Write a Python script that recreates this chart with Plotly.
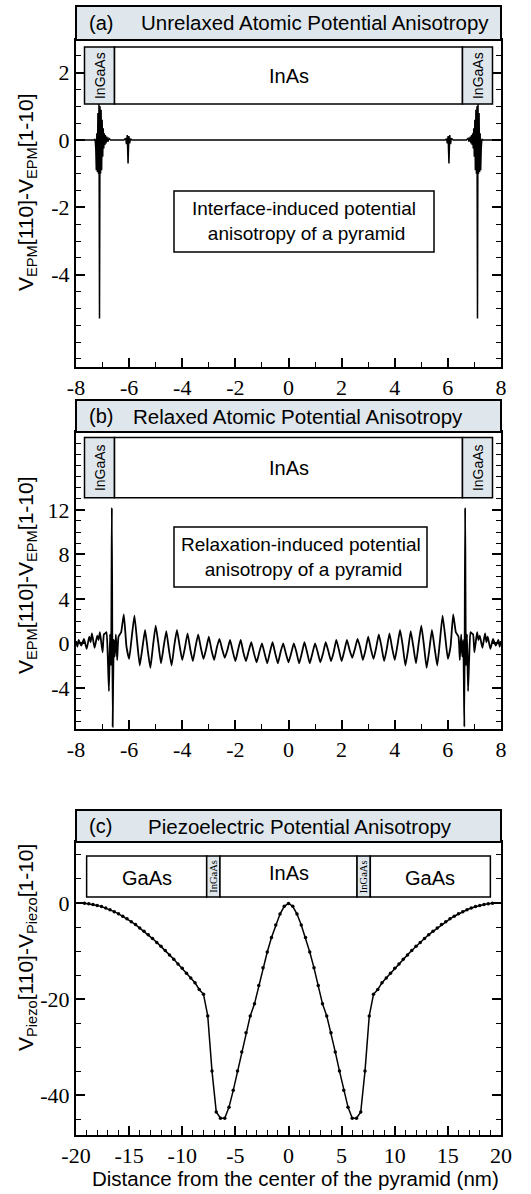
import plotly.graph_objects as go

# ---------------- data ----------------
# (a) unrelaxed atomic potential anisotropy along the pyramid axis (nm, meV)
x_a = [-8.0, -7.32, -7.28, -7.255, -7.235, -7.215, -7.195, -7.175, -7.155, -7.135, -7.115, -7.095,
       -7.075, -7.055, -7.035, -7.015, -6.995, -6.975, -6.955, -6.935, -6.915, -6.895, -6.87, -6.84,
       -6.80, -6.76, -6.70, -6.20, -6.13, -6.10, -6.07, -6.04, -6.01, -5.98, -5.95, -5.90,
       -5.80,
       5.80, 5.90, 5.95, 5.98, 6.01, 6.04, 6.07, 6.10, 6.13, 6.20, 6.70, 6.76, 6.80, 6.84,
       6.87, 6.895, 6.915, 6.935, 6.955, 6.975, 6.995, 7.015, 7.035, 7.055, 7.075, 7.095,
       7.115, 7.135, 7.155, 7.175, 7.195, 7.215, 7.235, 7.255, 7.28, 7.32, 8.0]
y_a = [0.0, 0.0, 0.03, -0.25, -0.9, 0.2, -0.95, 0.8, -1.0, 1.1, -5.3, 1.0,
       -1.0, 0.9, -0.9, 0.6, -0.5, 0.35, -0.25, 0.2, -0.15, 0.15, -0.1, 0.1,
       -0.05, 0.05, 0.0, 0.0, 0.05, -0.12, 0.15, -0.7, 0.12, -0.1, 0.04, 0.0,
       0.0,
       0.0, 0.0, 0.04, -0.1, 0.12, -0.7, 0.15, -0.12, 0.05, 0.0, 0.0, 0.05, -0.05, 0.1,
       -0.1, 0.15, -0.15, 0.2, -0.25, 0.35, -0.5, 0.6, -0.9, 0.9, -1.0, 1.0, -5.3,
       1.1, -1.0, 0.8, -0.95, 0.2, -0.9, -0.25, 0.03, 0.0, 0.0]

# (b) relaxed atomic potential anisotropy
x_b = [-8.00, -7.95, -7.90, -7.80, -7.70, -7.60, -7.50, -7.45, -7.40, -7.30, -7.20, -7.15,
       -7.10, -7.00, -6.95, -6.90, -6.85, -6.80, -6.76, -6.72, -6.68, -6.65, -6.62, -6.58,
       -6.54, -6.50, -6.45, -6.40,
       -6.30, -6.20, -6.10, -6.00, -5.90, -5.80, -5.70, -5.60, -5.50, -5.40, -5.30, -5.20,
       -5.10, -5.00, -4.90, -4.80, -4.70, -4.60, -4.50, -4.40, -4.30, -4.20, -4.10, -4.00,
       -3.90, -3.80, -3.70, -3.60, -3.50, -3.40, -3.30, -3.20, -3.10, -3.00, -2.90, -2.80,
       -2.70, -2.60, -2.50, -2.40, -2.30, -2.20, -2.10, -2.00, -1.90, -1.80, -1.70, -1.60,
       -1.50, -1.40, -1.30, -1.20, -1.10, -1.00, -0.90, -0.80, -0.70, -0.60, -0.50, -0.40,
       -0.30, -0.20, -0.10, 0.00,
       0.10, 0.20, 0.30, 0.40, 0.50, 0.60, 0.70, 0.80, 0.90, 1.00, 1.10, 1.20,
       1.30, 1.40, 1.50, 1.60, 1.70, 1.80, 1.90, 2.00, 2.10, 2.20, 2.30, 2.40,
       2.50, 2.60, 2.70, 2.80, 2.90, 3.00, 3.10, 3.20, 3.30, 3.40, 3.50, 3.60,
       3.70, 3.80, 3.90, 4.00, 4.10, 4.20, 4.30, 4.40, 4.50, 4.60, 4.70, 4.80,
       4.90, 5.00, 5.10, 5.20, 5.30, 5.40, 5.50, 5.60, 5.70, 5.80, 5.90, 6.00,
       6.10, 6.20, 6.30,
       6.40, 6.45, 6.50, 6.54, 6.58, 6.62, 6.65, 6.68, 6.72, 6.76, 6.80, 6.85,
       6.90, 6.95, 7.00, 7.10, 7.15, 7.20, 7.30, 7.40, 7.45, 7.50, 7.60, 7.70,
       7.80, 7.90, 7.95, 8.00]
y_b = [0.2, -0.3, 0.3, -0.2, 0.4, -0.5, 0.6, 0.1, 0.9, -0.4, 0.7, 0.3,
       1.0, -0.8, 0.8, 0.9, 1.0, -1.5, -4.3, 0.8, -2.0, 12.2, -7.5, 0.3,
       -1.2, 0.8, -1.5, 0.6,
       1.0, 2.6, -0.3, -1.4, 0.6, 2.5, 0.2, -2.0, -0.4, 1.2, -0.6, -2.2,
       -0.2, 1.6, 0.0, -1.8, -0.3, 1.1, -0.6, -2.0, -0.2, 1.2, -0.2, -1.5,
       -0.4, 0.9, -0.5, -1.6, -0.3, 0.8, -0.4, -1.4, -0.5, 0.6, -0.6, -1.5,
       -0.4, 0.4, -0.5, -1.3, -0.6, 0.3, -0.7, -1.6, -0.6, 0.3, -0.8, -1.6,
       -0.7, 0.1, -0.9, -1.7, -0.8, 0.0, -0.9, -1.8, -0.8, 0.1, -0.9, -1.8,
       -0.8, 0.0, -0.9, -1.7,
       -0.9, 0.0, -0.8, -1.8, -0.9, 0.1, -0.8, -1.8, -0.9, 0.0, -0.8, -1.7,
       -0.9, 0.1, -0.7, -1.6, -0.8, 0.3, -0.6, -1.6, -0.7, 0.3, -0.6, -1.3,
       -0.5, 0.4, -0.4, -1.5, -0.6, 0.6, -0.5, -1.4, -0.4, 0.8, -0.3, -1.6,
       -0.5, 0.9, -0.4, -1.5, -0.2, 1.2, -0.2, -2.0, -0.6, 1.1, -0.3, -1.8,
       0.0, 1.6, -0.2, -2.2, -0.6, 1.2, -0.4, -2.0, 0.2, 2.5, 0.6, -1.4,
       -0.3, 2.6, 1.0,
       0.6, -1.5, 0.8, -1.2, 0.3, -7.5, 12.2, -2.0, 0.8, -4.3, -1.5, 1.0,
       0.9, 0.8, -0.8, 1.0, 0.3, 0.7, -0.4, 0.9, 0.1, 0.6, -0.5, 0.4,
       -0.2, 0.3, -0.3, 0.2]

# (c) piezoelectric potential anisotropy, sampled every 0.4 nm
x_c = [-19.2, -18.8, -18.4, -18.0, -17.6, -17.2, -16.8, -16.4, -16.0, -15.6, -15.2, -14.8,
       -14.4, -14.0, -13.6, -13.2, -12.8, -12.4, -12.0, -11.6, -11.2, -10.8, -10.4, -10.0,
       -9.6, -9.2, -8.8, -8.4, -8.0, -7.6, -7.2, -6.8, -6.4, -6.0, -5.6, -5.2,
       -4.8, -4.4, -4.0, -3.6, -3.2, -2.8, -2.4, -2.0, -1.6, -1.2, -0.8, -0.4,
       0.0,
       0.4, 0.8, 1.2, 1.6, 2.0, 2.4, 2.8, 3.2, 3.6, 4.0, 4.4, 4.8,
       5.2, 5.6, 6.0, 6.4, 6.8, 7.2, 7.6, 8.0, 8.4, 8.8, 9.2, 9.6,
       10.0, 10.4, 10.8, 11.2, 11.6, 12.0, 12.4, 12.8, 13.2, 13.6, 14.0, 14.4,
       14.8, 15.2, 15.6, 16.0, 16.4, 16.8, 17.2, 17.6, 18.0, 18.4, 18.8, 19.2]
y_c = [-0.05, -0.15, -0.3, -0.5, -0.75, -1.05, -1.4, -1.8, -2.25, -2.75, -3.3, -3.9,
       -4.5, -5.2, -5.9, -6.6, -7.4, -8.2, -9.0, -9.9, -10.8, -11.7, -12.7, -13.6,
       -14.6, -15.6, -16.6, -18.0, -19.0, -23.5, -35.0, -43.5, -44.8, -44.8, -42.5, -39.0,
       -35.0, -31.0, -27.0, -23.5, -21.0, -17.2, -13.5, -10.2, -7.2, -4.6, -2.3, -0.7,
       -0.1,
       -0.7, -2.3, -4.6, -7.2, -10.2, -13.5, -17.2, -21.0, -23.5, -27.0, -31.0, -35.0,
       -39.0, -42.5, -44.8, -44.8, -43.5, -35.0, -23.5, -19.0, -18.0, -16.6, -15.6, -14.6,
       -13.6, -12.7, -11.7, -10.8, -9.9, -9.0, -8.2, -7.4, -6.6, -5.9, -5.2, -4.5,
       -3.9, -3.3, -2.75, -2.25, -1.8, -1.4, -1.05, -0.75, -0.5, -0.3, -0.15, -0.05]

# tick positions of the axes
ticks_x_ab = [-8, -6, -4, -2, 0, 2, 4, 6, 8]
ticks_x_c = [-20, -15, -10, -5, 0, 5, 10, 15, 20]
ticks_y_a = [-4, -2, 0, 2]
ticks_y_b = [-4, 0, 4, 8, 12]
ticks_y_c = [-40, -20, 0]

# material regions (nm) drawn as labelled boxes at the top of each panel
edges_ab = [-7.68, -6.55, 6.55, 7.68]
edges_c = [-19.0, -7.7, -6.45, 6.45, 7.7, 19.0]

panel_titles = ["Unrelaxed Atomic Potential Anisotropy",
                "Relaxed Atomic Potential Anisotropy",
                "Piezoelectric Potential Anisotropy"]
panel_tags = ["(a)", "(b)", "(c)"]

# ---------------- layout helpers ----------------
W, H = 531, 1194
SHADE = "#dfe7ed"
SANS = "Liberation Sans, Arial, Helvetica, sans-serif"
SERIF = "Liberation Serif, Times New Roman, Times, serif"


def xp(px):
    return px / W


def yp(px):
    return 1 - px / H


def labels(vals):
    # plain hyphen for negative numbers
    return [str(v) for v in vals]


fig = go.Figure()
fig.add_trace(go.Scatter(x=x_a, y=y_a, mode="lines", line=dict(color="black", width=1.5),
                         xaxis="x", yaxis="y", showlegend=False, hoverinfo="skip"))
fig.add_trace(go.Scatter(x=x_b, y=y_b, mode="lines",
                         line=dict(color="black", width=1.8, shape="spline", smoothing=0.4),
                         xaxis="x2", yaxis="y2", showlegend=False, hoverinfo="skip"))
fig.add_trace(go.Scatter(x=x_c, y=y_c, mode="lines+markers",
                         line=dict(color="black", width=1.5),
                         marker=dict(color="black", size=3.5),
                         xaxis="x3", yaxis="y3", showlegend=False, hoverinfo="skip"))

tickfont = dict(family=SERIF, size=22, color="black")


def xaxis(rng, vals, minor, anchor):
    return dict(domain=[xp(76), xp(501)], range=rng, anchor=anchor,
                showline=True, linecolor="black", linewidth=2, mirror=True,
                ticks="inside", ticklen=9, tickwidth=1.5, tickcolor="black",
                tickmode="array", tickvals=vals, ticktext=labels(vals),
                minor=dict(ticks="inside", ticklen=5, tickwidth=1.2, tickcolor="black",
                           tickmode="linear", tick0=0, dtick=minor, showgrid=False),
                showgrid=False, zeroline=False, tickfont=tickfont, automargin=False,
                fixedrange=True)


def yaxis(dom_px, rng, vals, minor, anchor):
    return dict(domain=[yp(dom_px[1]), yp(dom_px[0])], range=rng, anchor=anchor,
                showline=True, linecolor="black", linewidth=2, mirror="allticks",
                ticks="inside", ticklen=9, tickwidth=1.5, tickcolor="black",
                tickmode="array", tickvals=vals, ticktext=labels(vals),
                minor=dict(ticks="inside", ticklen=5, tickwidth=1.2, tickcolor="black",
                           tickmode="linear", tick0=0, dtick=minor, showgrid=False),
                showgrid=False, zeroline=False, tickfont=tickfont, automargin=False,
                fixedrange=True)


fig.update_layout(
    width=W, height=H, margin=dict(l=0, r=0, t=0, b=0),
    paper_bgcolor="white", plot_bgcolor="white",
    xaxis=xaxis([-8, 8], ticks_x_ab, 1, "y"),
    xaxis2=xaxis([-8, 8], ticks_x_ab, 1, "y2"),
    xaxis3=xaxis([-20, 20], ticks_x_c, 1, "y3"),
    yaxis=yaxis((40, 367), [-6.74, 2.97], ticks_y_a, 0.5, "x"),
    yaxis2=yaxis((432, 729), [-7.7, 19.0], ticks_y_b, 1, "x2"),
    yaxis3=yaxis((842, 1135), [-48.3, 12.7], ticks_y_c, 5, "x3"),
)

shapes = []
annotations = []

# panel headers
headers = [(6, 40, 315), (400, 432, 298), (810, 842, 300)]
for (top, bot, cx), tag, title in zip(headers, panel_tags, panel_titles):
    shapes.append(dict(type="rect", xref="paper", yref="paper",
                       x0=xp(76), x1=xp(501), y0=yp(bot), y1=yp(top),
                       fillcolor=SHADE, line=dict(color="black", width=2), layer="above"))
    annotations.append(dict(xref="paper", yref="paper", x=xp(87), y=yp((top + bot) / 2),
                            text=tag, showarrow=False, xanchor="left", yanchor="middle",
                            font=dict(family=SANS, size=20, color="black")))
    annotations.append(dict(xref="paper", yref="paper", x=xp(cx), y=yp((top + bot) / 2),
                            text=title, showarrow=False, xanchor="center", yanchor="middle",
                            font=dict(family=SANS, size=20.5, color="black")))


def region_box(xr, yr, x0, x1, y0, y1, fill):
    shapes.append(dict(type="rect", xref=xr, yref=yr, x0=x0, x1=x1, y0=y0, y1=y1,
                       fillcolor=fill, line=dict(color="black", width=1.5), layer="above"))


def region_label(xr, yr, x, y, text, size, angle=0, family=SANS):
    annotations.append(dict(xref=xr, yref=yr, x=x, y=y, text=text, showarrow=False,
                            textangle=angle, xanchor="center", yanchor="middle",
                            font=dict(family=family, size=size, color="black")))


# material boxes for panels (a) and (b)
for xr, yr, ylo, yhi in [("x", "y", 1.07, 2.76), ("x2", "y2", 13.1, 18.5)]:
    e = edges_ab
    region_box(xr, yr, e[0], e[1], ylo, yhi, SHADE)
    region_box(xr, yr, e[1], e[2], ylo, yhi, "white")
    region_box(xr, yr, e[2], e[3], ylo, yhi, SHADE)
    ym = (ylo + yhi) / 2
    region_label(xr, yr, (e[0] + e[1]) / 2, ym, "InGaAs", 14, -90)
    region_label(xr, yr, (e[2] + e[3]) / 2, ym, "InGaAs", 14, -90)
    region_label(xr, yr, 0, ym, "InAs", 20)

# material boxes for panel (c)
e = edges_c
ylo, yhi = 1.25, 9.8
fills = ["white", SHADE, "white", SHADE, "white"]
names = ["GaAs", "InGaAs", "InAs", "InGaAs", "GaAs"]
for i in range(5):
    region_box("x3", "y3", e[i], e[i + 1], ylo, yhi, fills[i])
    cx = (e[i] + e[i + 1]) / 2
    if names[i] == "InGaAs":
        region_label("x3", "y3", cx, (ylo + yhi) / 2, "InGaAs", 10.5, -90, SERIF)
    elif names[i] == "InAs":
        region_label("x3", "y3", cx, 6.3, "InAs", 20)
    else:
        region_label("x3", "y3", cx, 5.2, "GaAs", 20)

# explanatory text boxes
for (x0, y0, x1, y1), text in [((174, 191, 434, 252),
                                "Interface-induced potential<br> anisotropy of a pyramid"),
                               ((174, 527, 427, 587),
                                "Relaxation-induced potential<br> anisotropy of a pyramid")]:
    shapes.append(dict(type="rect", xref="paper", yref="paper",
                       x0=xp(x0), x1=xp(x1), y0=yp(y1), y1=yp(y0),
                       fillcolor="white", line=dict(color="black", width=1.5), layer="above"))
    annotations.append(dict(xref="paper", yref="paper", x=xp((x0 + x1) / 2),
                            y=yp((y0 + y1) / 2), text=text, showarrow=False,
                            xanchor="center", yanchor="middle", align="center",
                            font=dict(family=SANS, size=19, color="black")))

# axis titles
ytitles = [(192, "V<sub>EPM</sub>[110]-V<sub>EPM</sub>[1-10]"),
           (575, "V<sub>EPM</sub>[110]-V<sub>EPM</sub>[1-10]"),
           (948, "V<sub>Piezo</sub>[110]-V<sub>Piezo</sub>[1-10]")]
for ypx, text in ytitles:
    annotations.append(dict(xref="paper", yref="paper", x=xp(27), y=yp(ypx), text=text,
                            showarrow=False, textangle=-90, xanchor="center",
                            yanchor="middle", font=dict(family=SANS, size=21, color="black")))

annotations.append(dict(xref="paper", yref="paper", x=xp(295), y=yp(1178),
                        text="Distance from the center of the pyramid (nm)",
                        showarrow=False, xanchor="center", yanchor="middle",
                        font=dict(family=SANS, size=20.5, color="black")))

fig.update_layout(shapes=shapes, annotations=annotations)
fig.write_html("out.html")
